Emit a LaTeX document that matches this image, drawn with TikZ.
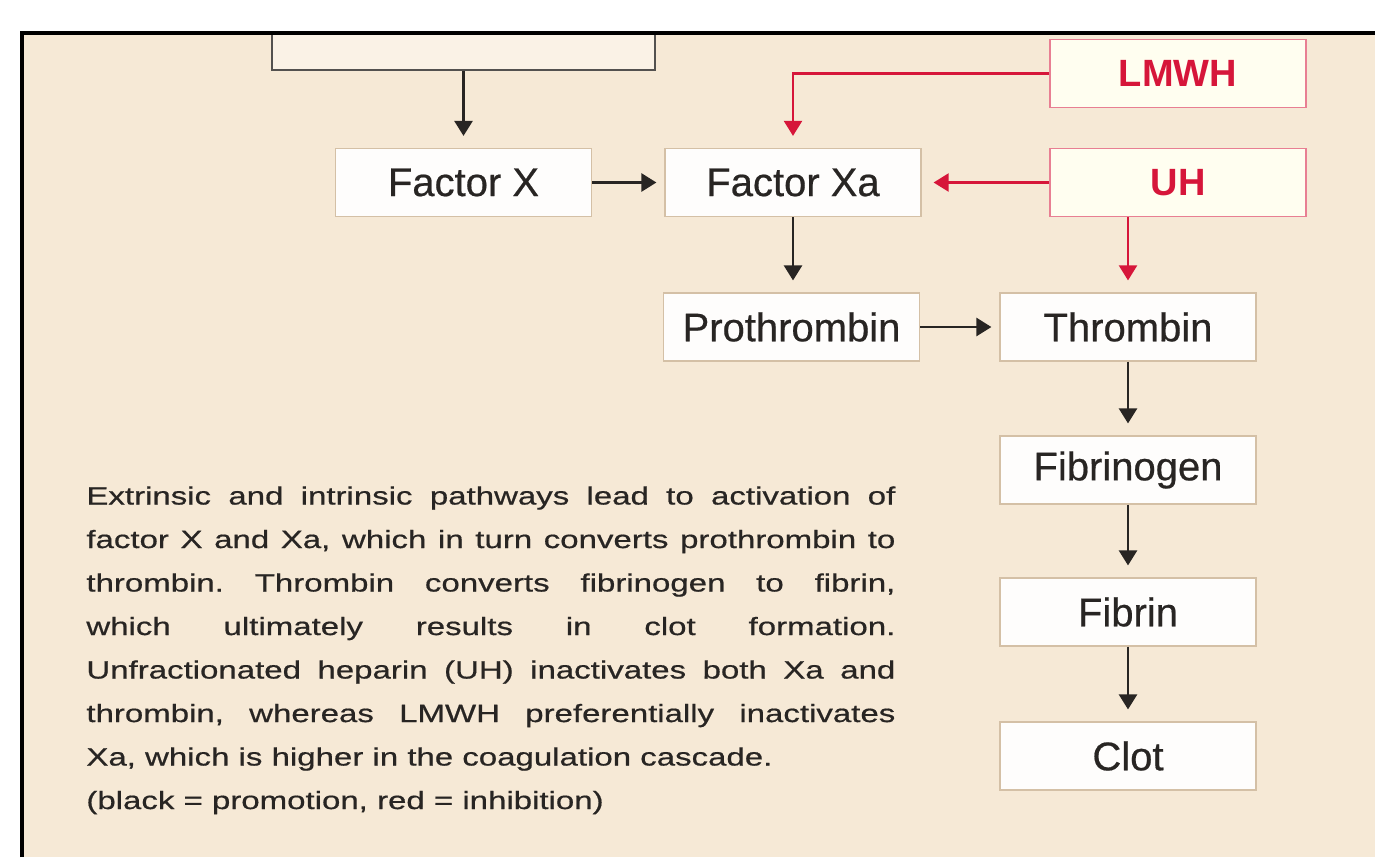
\documentclass[tikz,border=0pt]{standalone}
\usepackage{fontspec}
\setmainfont{Liberation Sans}
\newfontfamily\notefont[FakeStretch=1.32, FakeBold=0.6]{Liberation Sans}
\newfontfamily\boxfont[FakeBold=0.5]{Liberation Sans}
\usetikzlibrary{arrows.meta, calc}
\definecolor{paper}{RGB}{246,233,214}
\definecolor{inhib}{RGB}{214,22,58}
\definecolor{boxline}{RGB}{212,192,166}
\definecolor{ink}{RGB}{40,37,35}
\newcommand{\pd}[2]{% promotion arrows downwards
  \draw [promote] (#1.south) -- (#1.south |- #2.north);
  }
\newcommand{\ps}[2]{% promotion arrows sideways
  \draw [promote, shorten >=4pt] (#1.east) -- (#2.west);
  }

\begin{document}
\begin{tikzpicture}[
  x=0.5pt, y=-0.5pt,
  factor/.style={
    % The shape:
    rectangle,
    % The size:
    minimum width=128pt,
    minimum height=34pt,
    % The border:
    draw=boxline,
    line width=0.6pt,
    % The filling:
    fill=white!92!paper,
    % Font
    font=\boxfont\fontsize{20}{24}\selectfont,
    text=ink
  },
  drug/.style={
    factor,
    draw=inhib!55,
    fill=white!94!yellow,
    font=\bfseries\fontsize{19}{23}\selectfont,
    text=inhib
  },
  promote/.style={
    draw=ink, line width=1.3pt, shorten >=6pt,
    -{Triangle[length=7.5pt, width=9pt]}
  },
  inhibit/.style={
    promote, draw=inhib, line width=1.1pt
  },
  ]

  % page and frame
  \useasboundingbox (0,0) rectangle (1375,857);
  \fill [white] (0,0) rectangle (1375,857);
  \fill [paper] (22,33) rectangle (1375,857);

  % pathway box, cut by the frame
  \begin{scope}
    \clip (22,33) rectangle (1375,857);
    \node (path) [factor, draw=ink!80, line width=1pt, fill=white!40!paper,
      minimum width=191.5pt, minimum height=33.5pt] at (463.5,36.5) {};
  \end{scope}
  \draw [line width=1.6pt] (22,857) |- (1375,33);

  % the cascade
  \node (fx)  [factor] at (463.5,182.5) {Factor X};
  \node (fxa) [factor] at (793,182.5) {Factor Xa};
  \node (pro) [factor] at (791.5,327) {Prothrombin};
  \foreach \n/\t/\y in {thr/Thrombin/327, fbg/Fibrinogen/470, fbn/Fibrin/612, clot/Clot/756}
  {
    \node (\n) [factor] at (1128,\y) {\t};
  }

  % heparins
  \node (lmwh) [drug] at (1178,73.5) {LMWH};
  \node (uh)   [drug] at (1178,182.5) {UH};

  % promotion
  \pd{path}{fx}
  \ps{fx}{fxa}
  \pd{fxa}{pro}
  \ps{pro}{thr}
  \foreach \a/\b in {thr/fbg, fbg/fbn, fbn/clot}
  {
    \pd{\a}{\b}
  }

  % inhibition
  \draw [inhibit] (lmwh.west) -| (fxa.north);
  \draw [inhibit] (uh.west) -- (fxa.east);
  \draw [inhibit] (uh.south -| thr.north) -- (thr.north);

  % caption
  \node (note) [anchor=north west, inner sep=0pt, text width=404.5pt, align=justify,
    text=ink, font=\notefont\frenchspacing\fontsize{12.5}{21.75}\selectfont] at (86,486)
    {Extrinsic and intrinsic pathways lead to activation of\linebreak
     factor X and Xa, which in turn converts prothrombin to\linebreak
     thrombin. Thrombin converts fibrinogen to fibrin,\linebreak
     which ultimately results in clot formation.\linebreak
     Unfractionated heparin (UH) inactivates both Xa and\linebreak
     thrombin, whereas LMWH preferentially inactivates\linebreak
     Xa, which is higher in the coagulation cascade.\newline
     (black = promotion, red = inhibition)};

\end{tikzpicture}
\end{document}
